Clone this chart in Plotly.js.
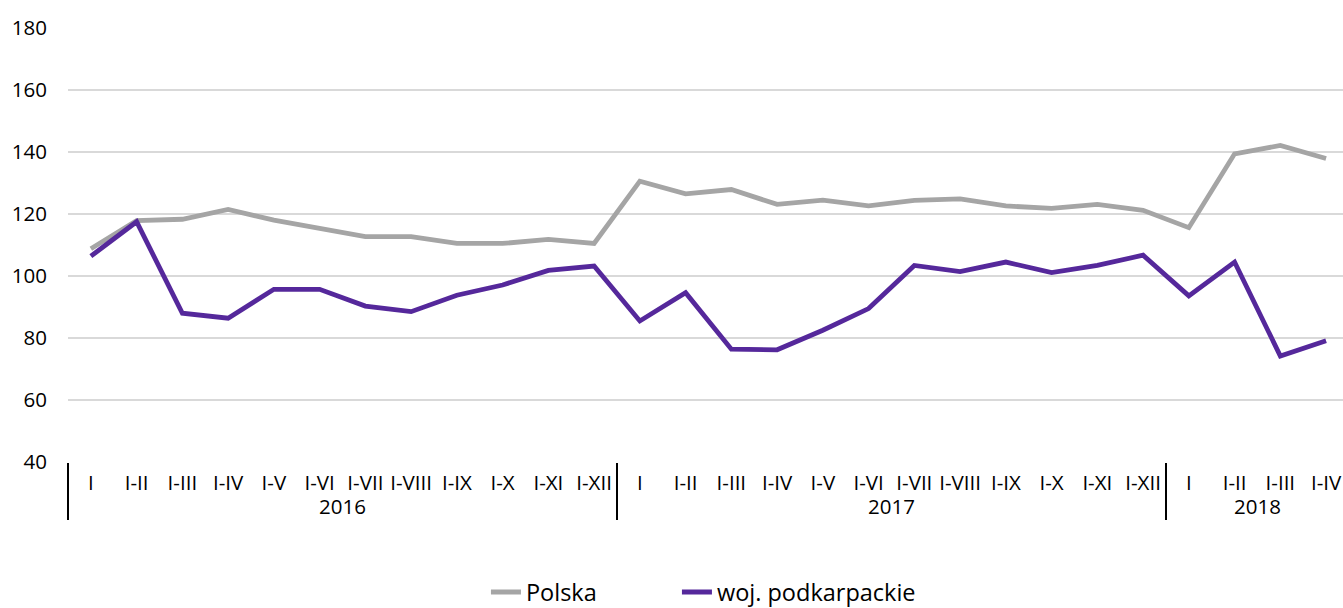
<!DOCTYPE html>
<html>
<head>
<meta charset="utf-8">
<script src="https://cdn.plot.ly/plotly-3.0.1.min.js"></script>
<style>html,body{margin:0;padding:0;background:#fff;}#chart{width:1343px;height:608px;}</style>
</head>
<body>
<div id="chart"></div>
<script>
const years = ["2016","2016","2016","2016","2016","2016","2016","2016","2016","2016","2016","2016",
               "2017","2017","2017","2017","2017","2017","2017","2017","2017","2017","2017","2017",
               "2018","2018","2018","2018"];
const periods = ["I","I-II","I-III","I-IV","I-V","I-VI","I-VII","I-VIII","I-IX","I-X","I-XI","I-XII",
                 "I","I-II","I-III","I-IV","I-V","I-VI","I-VII","I-VIII","I-IX","I-X","I-XI","I-XII",
                 "I","I-II","I-III","I-IV"];
const polska = [108.8,117.9,118.3,121.5,118.0,115.3,112.7,112.7,110.5,110.5,111.8,110.5,
                130.6,126.5,127.9,123.1,124.5,122.6,124.4,124.9,122.6,121.8,123.1,121.2,
                115.6,139.4,142.1,137.9];
const podkarpackie = [106.4,117.5,88.0,86.4,95.7,95.7,90.3,88.5,93.8,97.1,101.8,103.2,
                      85.5,94.6,76.4,76.2,82.5,89.5,103.4,101.4,104.5,101.1,103.4,106.7,
                      93.6,104.5,74.2,79.1];
const seriesNames = ["Polska","woj. podkarpackie"];

const font = "Open Sans";

const traces = [
  {x:[years,periods], y:polska, type:"scatter", mode:"lines", name:seriesNames[0],
   line:{color:"#a5a5a5", width:4.8}, legend:"legend"},
  {x:[years,periods], y:podkarpackie, type:"scatter", mode:"lines", name:seriesNames[1],
   line:{color:"#55289b", width:4.8}, legend:"legend2"}
];

const legendFont = {family:font, size:23.5, color:"#000"};

const layout = {
  width:1343, height:608,
  margin:{l:68, r:0, t:28, b:146, autoexpand:false},
  paper_bgcolor:"#fff", plot_bgcolor:"#fff",
  font:{family:font, color:"#000", size:19},
  showlegend:true,
  legend:{orientation:"h", x:0.3278, xanchor:"left", y:-0.30, yanchor:"middle",
          font:legendFont, bgcolor:"rgba(0,0,0,0)"},
  legend2:{orientation:"h", x:0.4776, xanchor:"left", y:-0.30, yanchor:"middle",
          font:legendFont, bgcolor:"rgba(0,0,0,0)"},
  xaxis:{type:"multicategory", range:[-0.5, 27.37], showgrid:false, zeroline:false,
         showline:false, ticks:"", tickangle:0, showdividers:true, dividercolor:"#000",
         dividerwidth:1.5, automargin:false, ticklabelstandoff:6,
         tickfont:{family:font, size:20.5, color:"#000"}},
  yaxis:{range:[40,180], dtick:20, tick0:40, showgrid:true, gridcolor:"#d9d9d9", gridwidth:1.5,
         zeroline:false, showline:false, ticks:"", ticklabelstandoff:20, automargin:false,
         tickfont:{family:font, size:20.5, color:"#000"}},
  shapes:[{type:"line", xref:"paper", x0:0, x1:1, yref:"y", y0:100, y1:100,
           line:{color:"#000", width:2}, layer:"below"}]
};

Plotly.newPlot("chart", traces, layout, {displayModeBar:false, staticPlot:true});
</script>
</body>
</html>
